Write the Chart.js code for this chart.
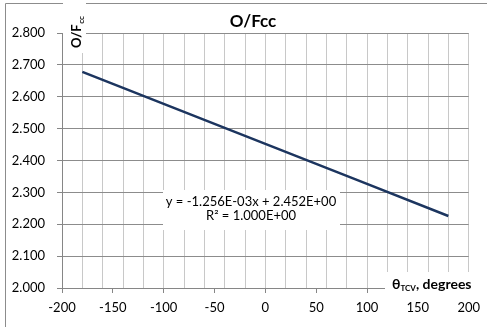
<!DOCTYPE html>
<html>
<head>
<meta charset="utf-8">
<script src="https://cdn.jsdelivr.net/npm/chart.js@4/dist/chart.umd.min.js"></script>
<style>
html,body{margin:0;padding:0;background:#fff;}
#wrap{position:relative;width:487px;height:327px;}
</style>
</head>
<body>
<div id="wrap"><canvas id="c" width="487" height="327"></canvas></div>
<script>
const xValues = [-180, -90, 0, 90, 180];
const ofValues = [2.678, 2.565, 2.452, 2.339, 2.226];
const yTicks = [2.0, 2.1, 2.2, 2.3, 2.4, 2.5, 2.6, 2.7, 2.8];
const xTickLabels = [-200, -150, -100, -50, 0, 50, 100, 150, 200];
const chartTitle = 'O/Fcc';
const trendLines = ['y = -1.256E-03x + 2.452E+00', 'R² = 1.000E+00'];

const FONT = 'Lato, "Open Sans", sans-serif';

const decor = {
  id: 'decor',
  beforeDraw(chart) {
    const ctx = chart.ctx;
    ctx.save();
    ctx.fillStyle = '#fff';
    ctx.fillRect(0, 0, chart.width, chart.height);
    ctx.strokeStyle = '#8c8c8c';
    ctx.lineWidth = 1;
    ctx.beginPath();
    ctx.moveTo(5.5, 340); ctx.lineTo(5.5, 3.5); ctx.lineTo(495, 3.5);
    ctx.stroke();
    ctx.restore();
  },
  afterDatasetsDraw(chart) {
    const ctx = chart.ctx;
    ctx.save();
    // title
    ctx.fillStyle = '#000';
    ctx.font = 'bold 17px ' + FONT;
    ctx.textAlign = 'center';
    ctx.textBaseline = 'middle';
    ctx.fillText(chartTitle, 253, 22);

    // trendline label box
    ctx.fillStyle = '#fff';
    ctx.fillRect(163, 190, 177, 40);
    ctx.fillStyle = '#000';
    ctx.font = '13px ' + FONT;
    ctx.fillText(trendLines[0], 251, 202);
    ctx.fillText(trendLines[1], 251, 216);

    // y axis title box
    ctx.fillStyle = '#fff';
    ctx.fillRect(63, 0, 23, 53);
    ctx.save();
    ctx.translate(77, 48);
    ctx.rotate(-Math.PI / 2);
    ctx.fillStyle = '#000';
    ctx.textAlign = 'left';
    ctx.textBaseline = 'middle';
    ctx.font = 'bold 13px ' + FONT;
    ctx.fillText('O/F', 0, 0);
    const w1 = ctx.measureText('O/F').width;
    ctx.font = 'bold 8px ' + FONT;
    ctx.fillText('cc', w1 + 0.5, 4);
    ctx.restore();

    // x axis title box
    ctx.fillStyle = '#fff';
    ctx.fillRect(385, 272, 102, 24);
    ctx.fillStyle = '#000';
    ctx.textAlign = 'left';
    ctx.textBaseline = 'middle';
    ctx.font = 'bold 14px ' + FONT;
    let x = 392;
    ctx.fillText('θ', x, 284);
    x += ctx.measureText('θ').width;
    ctx.font = 'bold 8px ' + FONT;
    ctx.fillText('TCV', x, 288);
    x += ctx.measureText('TCV').width;
    ctx.font = 'bold 14px ' + FONT;
    ctx.fillText(', degrees', x, 284);
    ctx.restore();
  }
};

new Chart(document.getElementById('c'), {
  type: 'scatter',
  data: {
    datasets: [{
      data: xValues.map((v, i) => ({x: v, y: ofValues[i]})),
      showLine: true,
      borderColor: '#1c355f',
      borderWidth: 2.5,
      pointRadius: 0,
      fill: false
    }]
  },
  options: {
    responsive: false,
    animation: false,
    devicePixelRatio: 1,
    layout: {padding: {top: 33, right: 17, left: 0, bottom: 0}},
    plugins: {legend: {display: false}, tooltip: {enabled: false}, title: {display: false}},
    scales: {
      x: {
        type: 'linear',
        min: -200, max: 200,
        afterFit: s => { s.height = 39; },
        afterBuildTicks: s => {
          const t = [];
          for (let v = -200; v <= 200; v += 10) t.push({value: v});
          s.ticks = t;
        },
        ticks: {
          autoSkip: false,
          maxRotation: 0,
          color: '#000',
          font: {family: FONT, size: 13},
          padding: 7,
          callback: v => xTickLabels.includes(v) ? String(v) : ''
        },
        grid: {
          color: c => (c.tick && c.tick.value % 20 === 0) ? '#c8c8c8' : 'rgba(0,0,0,0)',
          tickColor: c => (c.tick && c.tick.value % 50 === 0) ? '#868686' : 'rgba(0,0,0,0)',
          tickLength: 5,
          lineWidth: 1
        },
        border: {color: '#868686', width: 1}
      },
      y: {
        min: 2.0, max: 2.8,
        afterFit: s => { s.width = 62; },
        afterBuildTicks: s => { s.ticks = yTicks.map(v => ({value: v})); },
        ticks: {
          color: '#000',
          font: {family: FONT, size: 13},
          padding: 12,
          callback: v => Number(v).toFixed(3)
        },
        grid: {color: '#8c8c8c', tickColor: '#868686', tickLength: 5, lineWidth: 1},
        border: {color: '#868686', width: 1}
      }
    }
  },
  plugins: [decor]
});
</script>
</body>
</html>
